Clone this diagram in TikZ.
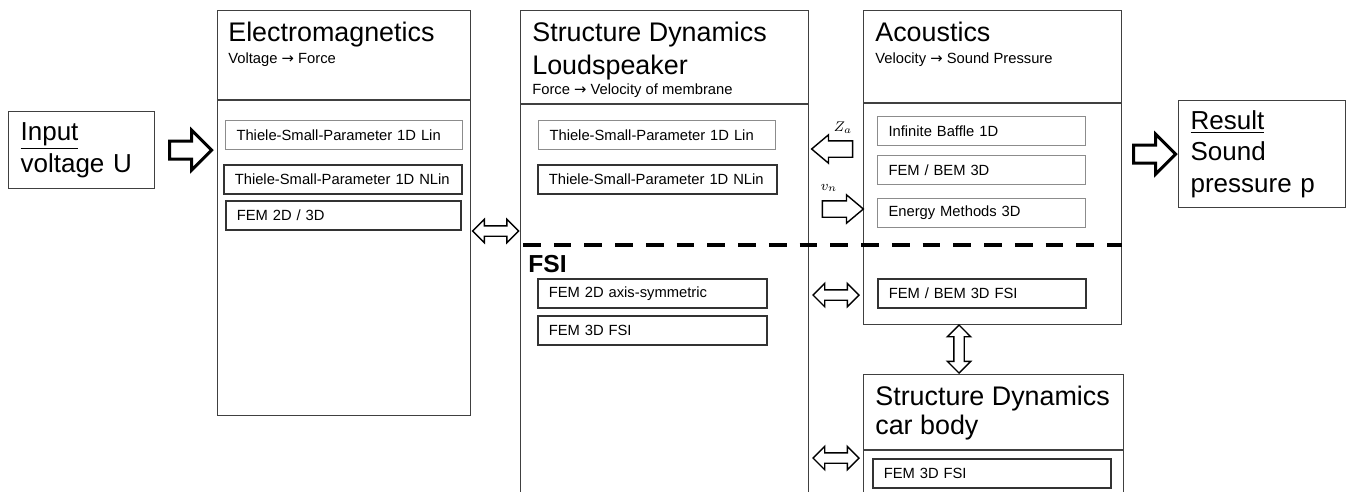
\documentclass[tikz,border=0pt]{standalone}
\usepackage{fontspec}
\setmainfont{Liberation Sans}
\newfontfamily\arrowfont{DejaVu Sans}
\newcommand{\maparrow}{{\arrowfont →}}
\usetikzlibrary{shapes.arrows,calc}

\begin{document}
\begin{tikzpicture}[x=0.02cm,y=-0.02cm,
                    bigtext/.style={font=\fontsize{14.8}{18}\selectfont},
                    titletext/.style={font=\fontsize{15.3}{18}\selectfont},
                    smalltext/.style={font=\fontsize{8.4}{10}\selectfont},
                    box/.style={draw=black!75,line width=0.7pt,anchor=north west,inner sep=0pt},
                    sub/.style={draw=black!80,line width=0.9pt,anchor=north west,inner xsep=0.22cm,
                                inner ysep=0pt,minimum height=0.58cm,align=left,smalltext},
                    light/.style={draw=black!45,line width=0.6pt},
                    heading/.style={anchor=base west,inner sep=0pt,titletext},
                    caption/.style={anchor=base west,inner sep=0pt,smalltext},
                    fatarrow/.style={single arrow,draw=black,fill=white,line width=1.7pt,inner sep=0.15cm,
                                     single arrow head extend=0.22cm,minimum height=0.84cm},
                    flowarrow/.style={single arrow,draw=black,fill=white,line width=0.8pt,inner sep=0.15cm,
                                      single arrow head extend=0.12cm,single arrow tip angle=80,minimum height=0.82cm},
                    linkarrow/.style={double arrow,draw=black,fill=white,line width=0.8pt,inner sep=0.09cm,
                                      double arrow head extend=0.13cm,minimum height=0.92cm},
                    fsiline/.style={line width=2.3pt,dash pattern=on 10pt off 7.5pt}
                   ]
  \useasboundingbox (0,0) rectangle (1347,491);
  % input and result
  \node[box,bigtext,text width=2.44cm,inner xsep=0.24cm,minimum height=1.54cm,align=left] (in) at (8,111) {\underline{Input}\\voltage U};
  \node[box,bigtext,text width=2.86cm,inner xsep=0.24cm,minimum height=2.14cm,align=left] (res) at (1178,100) {\underline{Result}\\Sound\\pressure p};
  % domain boxes
  \node[box,minimum width=5.06cm,minimum height=8.10cm] (em) at (217,10) {};
  \node[box,minimum width=5.76cm,minimum height=9.80cm] (sd) at (520,10) {};
  \node[box,minimum width=5.16cm,minimum height=6.28cm] (ac) at (863,10) {};
  \node[box,minimum width=5.20cm,minimum height=2.52cm] (car) at (863,374) {};
  \draw[black!75,line width=0.7pt] (em.west |- 0,100) -- (em.east |- 0,100)
                                   (sd.west |- 0,104) -- (sd.east |- 0,104)
                                   (ac.west |- 0,103) -- (ac.east |- 0,103)
                                   (car.west |- 0,450) -- (car.east |- 0,450);
  \node[heading] (emT) at (228,41) {Electromagnetics};
  \node[caption] (emC) at (228,63) {Voltage \maparrow{} Force};
  \node[heading] (sdT) at (532,41) {Structure Dynamics};
  \node[heading] (sdT2) at (532,74) {Loudspeaker};
  \node[caption] (sdC) at (532,94) {Force \maparrow{} Velocity of membrane};
  \node[heading] (acT) at (875,41) {Acoustics};
  \node[caption] (acC) at (875,63) {Velocity \maparrow{} Sound Pressure};
  \node[heading] (carT) at (875,405) {Structure Dynamics};
  \node[heading] (carT2) at (875,434) {car body};
  % methods
  \node[sub,light,text width=4.30cm] (em1) at (225,120) {Thiele-Small-Parameter 1D Lin};
  \node[sub,text width=4.32cm] (em2) at (223,164) {Thiele-Small-Parameter 1D NLin};
  \node[sub,text width=4.26cm] (em3) at (225,200) {FEM 2D / 3D};
  \node[sub,light,text width=4.30cm] (sd1) at (538,120) {Thiele-Small-Parameter 1D Lin};
  \node[sub,text width=4.34cm] (sd2) at (537,164) {Thiele-Small-Parameter 1D NLin};
  \node[sub,text width=4.14cm] (sd3) at (537,278) {FEM 2D axis-symmetric};
  \node[sub,text width=4.14cm] (sd4) at (537,315) {FEM 3D FSI};
  \node[sub,light,text width=3.72cm] (ac1) at (877,116) {Infinite Baffle 1D};
  \node[sub,light,text width=3.72cm] (ac2) at (877,155) {FEM / BEM 3D};
  \node[sub,light,text width=3.72cm] (ac3) at (877,198) {Energy Methods 3D};
  \node[sub,text width=3.72cm] (ac4) at (877,278) {FEM / BEM 3D FSI};
  \node[sub,text width=4.32cm] (car1) at (872,458) {FEM 3D FSI};
  % FSI part
  \draw[fsiline] (523,245) -- (ac.east |- 0,245);
  \node[anchor=base west,inner sep=0pt,font=\fontsize{14}{16}\selectfont\bfseries] (fsiT) at (528,272) {FSI};
  % coupling arrows
  \node[fatarrow] (inA) at ($(in.east)!0.5!(em.west |- in.east)$) {};
  \node[fatarrow] (resA) at ($(ac.east |- res.west)!0.5!(res.west)$) {};
  \node[linkarrow] (emsd) at ($(em.east |- 0,231)!0.5!(sd.west |- 0,231)$) {};
  \node[flowarrow,shape border rotate=180] (za) at (837,149) {};
  \node[flowarrow] (vn) at (838,209) {};
  \node[smalltext,inner sep=0pt] (zaL) at (843,128) {$Z_a$};
  \node[smalltext,inner sep=0pt] (vnL) at (829,188) {$v_n$};
  \node[linkarrow] (fsiA) at (836,295) {};
  \node[linkarrow] (carA) at (836,458) {};
  \node[linkarrow,shape border rotate=90,minimum height=0.96cm] (acCar) at (959,349) {};
\end{tikzpicture}
\end{document}
